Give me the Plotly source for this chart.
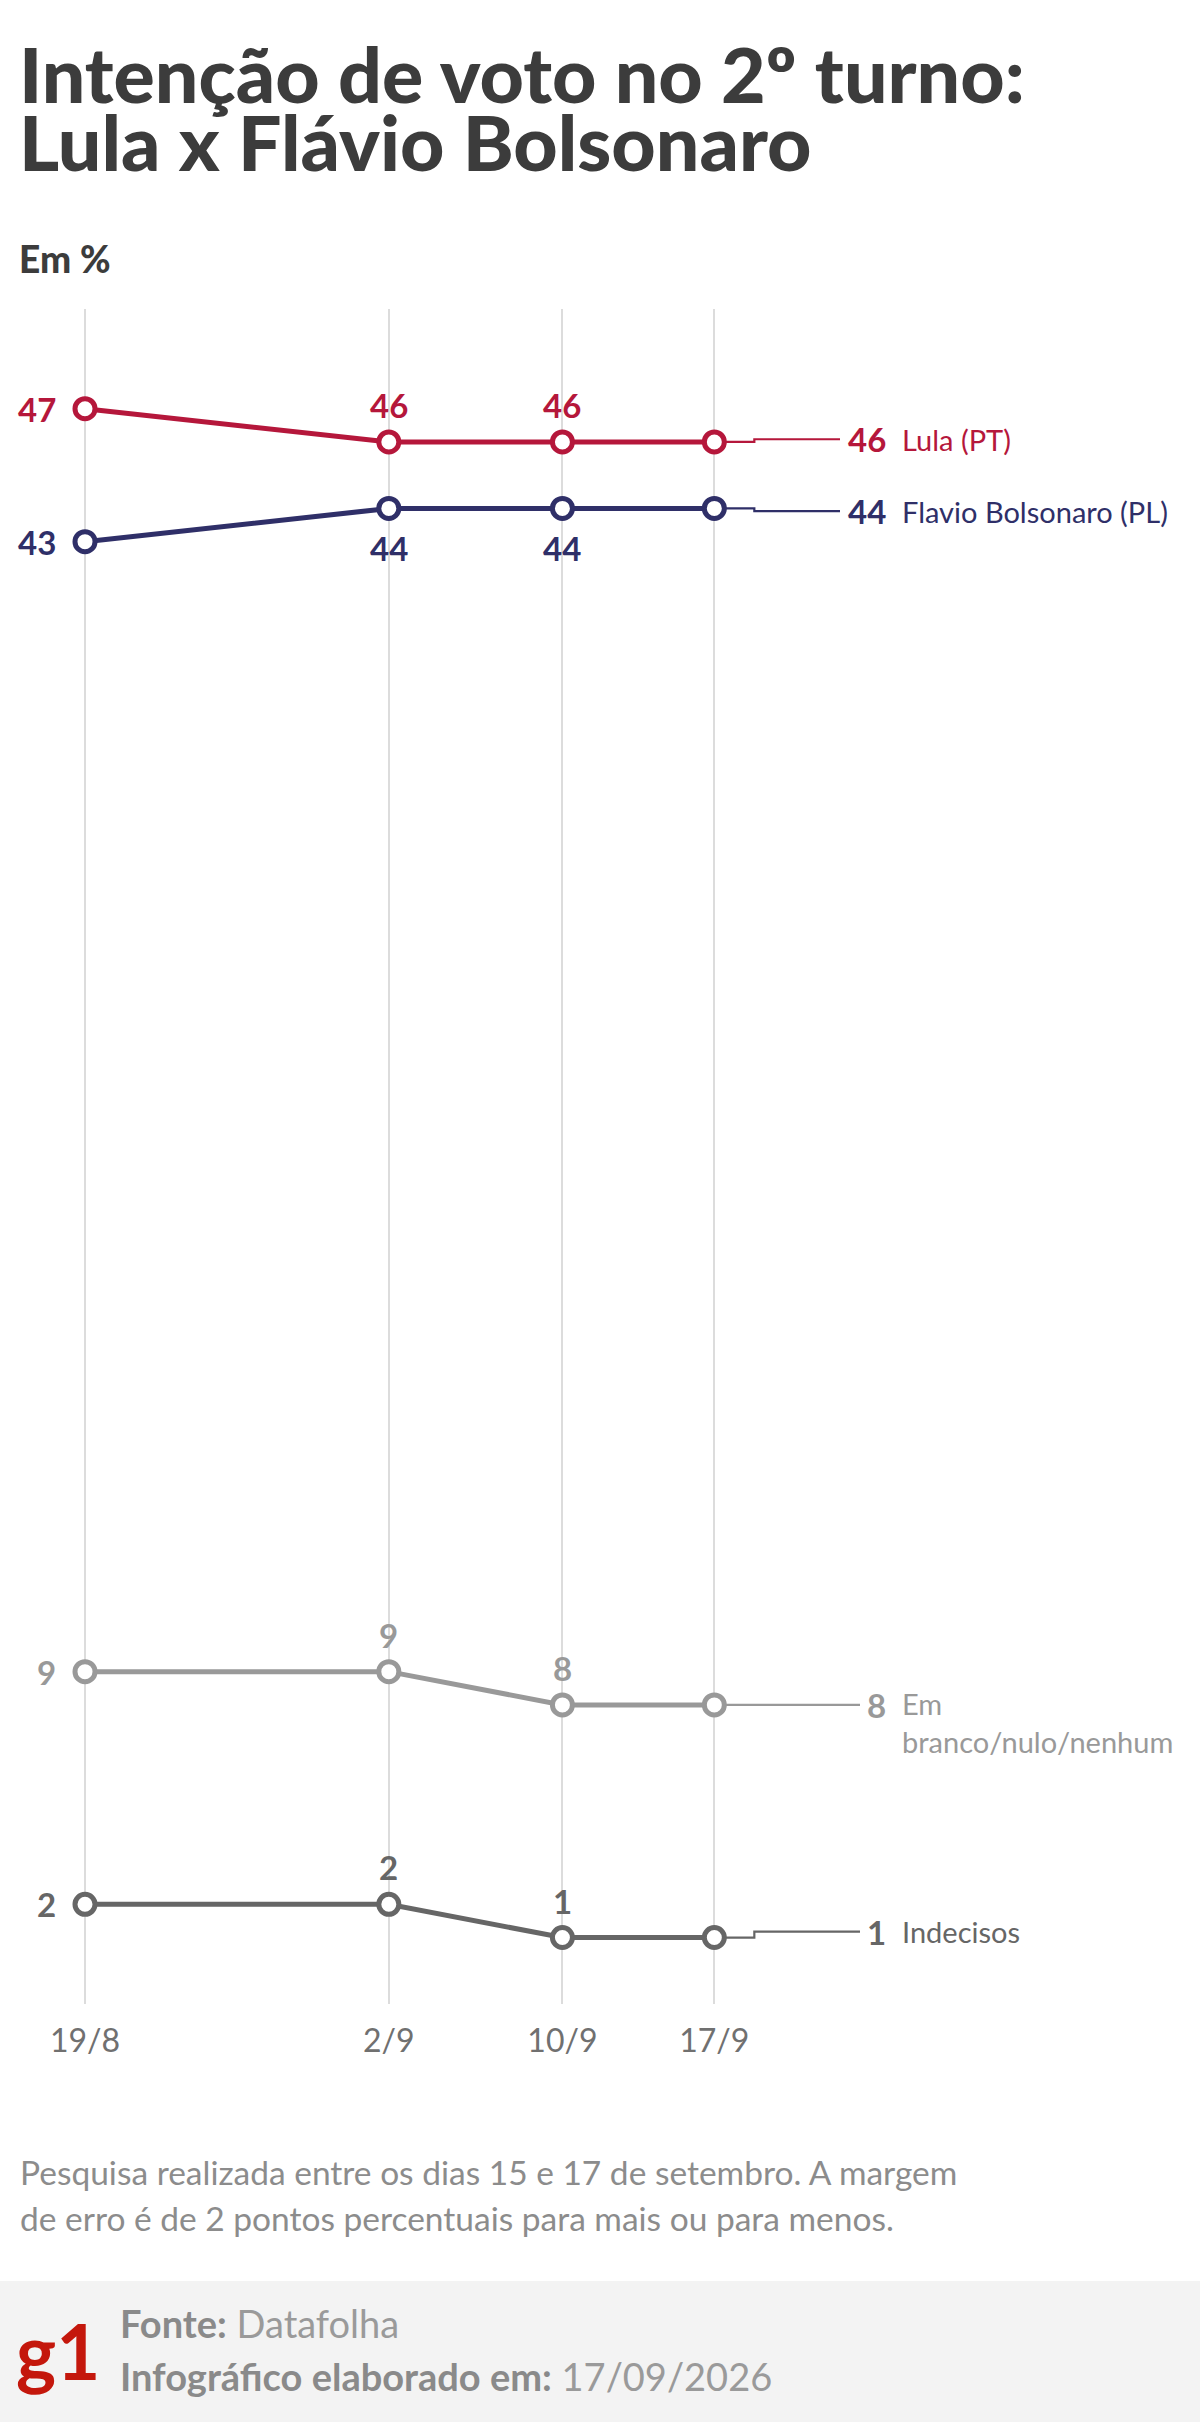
import plotly.graph_objects as go
import pandas as pd

# ---------------- data ----------------
dates = ["2026-08-19", "2026-09-02", "2026-09-10", "2026-09-17"]
tick_labels = ["19/8", "2/9", "10/9", "17/9"]
lula = [47, 46, 46, 46]
flavio = [43, 44, 44, 44]
branco = [9, 9, 8, 8]
indecisos = [2, 2, 1, 1]

names = ["Lula (PT)", "Flavio Bolsonaro (PL)", "Em<br>branco/nulo/nenhum", "Indecisos"]

title_1 = "Intenção de voto no 2º turno:"
title_2 = "Lula x Flávio Bolsonaro"
unit_label = "Em %"
note_1 = "Pesquisa realizada entre os dias 15 e 17 de setembro. A margem"
note_2 = "de erro é de 2 pontos percentuais para mais ou para menos."
source_label = "Fonte:"
source_text = "Datafolha"
made_label = "Infográfico elaborado em:"
made_text = "17/09/2026"

# ---------------- style ----------------
RED = "#B5173B"
NAVY = "#2F2F68"
LGRAY = "#999999"
DGRAY = "#666666"
TXT = "#3c3c3c"
FONT = "Lato"

series = [
    dict(vals=lula, color=RED, name=names[0], mid="above", step=-2.7),
    dict(vals=flavio, color=NAVY, name=names[1], mid="below", step=2.7),
    dict(vals=branco, color=LGRAY, name=names[2], mid="above", step=0.0),
    dict(vals=indecisos, color=DGRAY, name=names[3], mid="above", step=-6.0),
]

W, H = 1200, 2422
M_T, M_B = 309, 418
PLOT_H = H - M_T - M_B
Y_RANGE = [-1, 50]
PX_PER_UNIT = PLOT_H / (Y_RANGE[1] - Y_RANGE[0])

base = pd.Timestamp(dates[0])
X_DAYS = [-3.917, 51.38]
x_range = [(base + pd.Timedelta(days=d)).to_pydatetime() for d in X_DAYS]
PX_PER_DAY = W / (X_DAYS[1] - X_DAYS[0])


def px_to_date(px):
    return (pd.Timestamp(x_range[0]) + pd.Timedelta(days=px / PX_PER_DAY)).to_pydatetime()


def date_to_px(d):
    return (pd.Timestamp(d) - pd.Timestamp(x_range[0])).total_seconds() / 86400 * PX_PER_DAY


def py(Y):
    """figure pixel row -> paper y"""
    return (H - M_B - Y) / PLOT_H


NUM_RIGHT = 888  # right edge of the value labels on the right
NAME_LEFT = 900
DIGIT_W = 20
LBL_SIZE = 33

fig = go.Figure()
annotations = []

for s in series:
    vals, c = s["vals"], s["color"]
    last = vals[-1]
    dy = -s["step"] / PX_PER_UNIT  # pixel step (down positive) -> data units
    x_last_px = date_to_px(dates[-1])
    x_step = px_to_date(x_last_px + 40)
    x_end = px_to_date(NUM_RIGHT - DIGIT_W * len(str(last)) - 8)
    # leader line
    fig.add_trace(go.Scatter(
        x=[dates[-1], x_step, x_step, x_end],
        y=[last, last, last + dy, last + dy],
        mode="lines", line=dict(color=c, width=2.2),
        hoverinfo="skip", showlegend=False,
    ))
    # main line
    fig.add_trace(go.Scatter(
        x=dates, y=vals, mode="lines+markers",
        line=dict(color=c, width=5),
        marker=dict(size=20, color="white", line=dict(color=c, width=5)),
        hoverinfo="skip", showlegend=False, cliponaxis=False,
    ))
    # first value: left of point
    annotations.append(dict(
        x=dates[0], y=vals[0], xref="x", yref="y", text=f"<b>{vals[0]}</b>",
        xanchor="right", yanchor="middle", xshift=-27, showarrow=False,
        font=dict(family=FONT, size=LBL_SIZE, color=c),
    ))
    # middle values
    for i in range(1, len(vals) - 1):
        annotations.append(dict(
            x=dates[i], y=vals[i], xref="x", yref="y", text=f"<b>{vals[i]}</b>",
            xanchor="center", yanchor="middle",
            yshift=37 if s["mid"] == "above" else -40, showarrow=False,
            font=dict(family=FONT, size=LBL_SIZE, color=c),
        ))
    # right value + name
    annotations.append(dict(
        x=NUM_RIGHT / W, y=last + dy, xref="paper", yref="y", text=f"<b>{last}</b>",
        xanchor="right", yanchor="middle", showarrow=False,
        font=dict(family=FONT, size=LBL_SIZE, color=c),
    ))
    multi = "<br>" in s["name"]
    annotations.append(dict(
        x=NAME_LEFT / W, y=last + dy, xref="paper", yref="y", text=s["name"],
        xanchor="left", yanchor="top" if multi else "middle",
        yshift=21 if multi else 0, align="left", showarrow=False,
        font=dict(family=FONT, size=29, color=c),
    ))

# titles and notes
annotations += [
    dict(x=17 / W, y=py(73), xref="paper", yref="paper", text=title_1,
         xanchor="left", yanchor="middle", showarrow=False,
         font=dict(family=FONT, size=77, color=TXT, weight=900)),
    dict(x=17 / W, y=py(141), xref="paper", yref="paper", text=title_2,
         xanchor="left", yanchor="middle", showarrow=False,
         font=dict(family=FONT, size=77, color=TXT, weight=900)),
    dict(x=17 / W, y=py(258), xref="paper", yref="paper", text=unit_label,
         xanchor="left", yanchor="middle", showarrow=False,
         font=dict(family=FONT, size=37, color=TXT, weight=900)),
    dict(x=18 / W, y=py(2172), xref="paper", yref="paper", text=note_1,
         xanchor="left", yanchor="middle", showarrow=False,
         font=dict(family=FONT, size=33.5, color="#8c8c8c")),
    dict(x=18 / W, y=py(2218), xref="paper", yref="paper", text=note_2,
         xanchor="left", yanchor="middle", showarrow=False,
         font=dict(family=FONT, size=33.5, color="#8c8c8c")),
    dict(x=14 / W, y=py(2350), xref="paper", yref="paper", text="<b>g1</b>",
         xanchor="left", yanchor="middle", showarrow=False,
         font=dict(family=FONT, size=76, color="#C4170C", weight=900)),
    dict(x=118 / W, y=py(2323), xref="paper", yref="paper",
         text=f"<b>{source_label}</b> <span style='color:#9a9a9a'>{source_text}</span>",
         xanchor="left", yanchor="middle", showarrow=False,
         font=dict(family=FONT, size=38, color="#8a8a8a")),
    dict(x=118 / W, y=py(2376), xref="paper", yref="paper",
         text=f"<b>{made_label}</b> <span style='color:#9a9a9a'>{made_text}</span>",
         xanchor="left", yanchor="middle", showarrow=False,
         font=dict(family=FONT, size=38, color="#8a8a8a")),
]

shapes = [dict(type="rect", xref="paper", yref="paper", x0=0, x1=1,
               y0=py(H), y1=py(2281), fillcolor="#f3f3f3", line=dict(width=0),
               layer="below")]

fig.update_layout(
    width=W, height=H,
    margin=dict(l=0, r=0, t=M_T, b=M_B, pad=0),
    paper_bgcolor="white", plot_bgcolor="white",
    showlegend=False,
    annotations=annotations, shapes=shapes,
    xaxis=dict(
        type="date", range=x_range, tickmode="array",
        tickvals=dates, ticktext=tick_labels,
        showgrid=True, gridcolor="#dcdcdc", gridwidth=1.5,
        zeroline=False, showline=False,
        ticks="outside", ticklen=9, tickcolor="rgba(0,0,0,0)",
        tickfont=dict(family=FONT, size=32, color="#707070"),
        fixedrange=True,
    ),
    yaxis=dict(range=Y_RANGE, visible=False, fixedrange=True),
)

fig.write_html("out.html", config={"displayModeBar": False},
               post_script="document.body.style.margin='0';")
